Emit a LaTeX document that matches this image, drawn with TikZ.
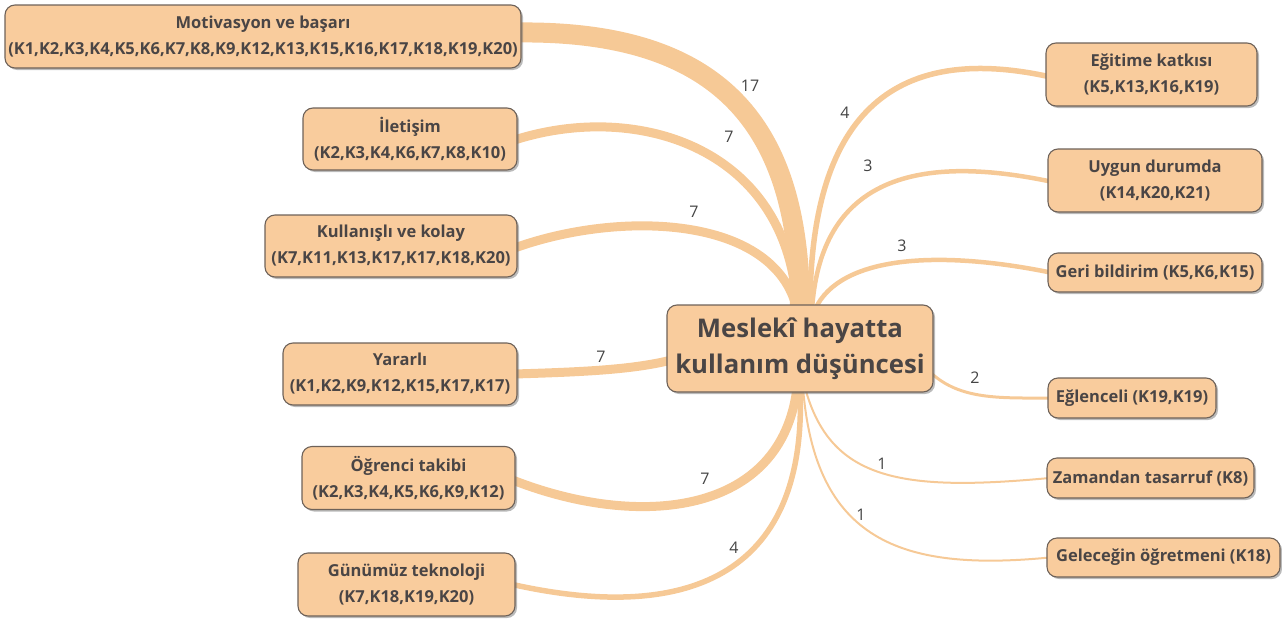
\documentclass[tikz,border=0pt]{standalone}
\usepackage{fontspec}
\setmainfont{Open Sans}
\usetikzlibrary{shadows,backgrounds,calc}
\definecolor{boxfill}{HTML}{F9CC9D}
\definecolor{boxline}{HTML}{6E6259}
\definecolor{txt}{HTML}{4A4545}
\definecolor{conn}{HTML}{F6C996}
\definecolor{lbl}{HTML}{444444}
\tikzset{
  leaf/.style={draw=boxline, line width=1.1pt, fill=boxfill, rounded corners=10pt,
    drop shadow={shadow xshift=2pt, shadow yshift=-2pt, opacity=0.45, fill=black!60},
    text=txt, font=\fontsize{16.5}{26}\selectfont\bfseries, align=center,
    inner sep=0pt},
  hub/.style={leaf, font=\fontsize{25.7}{36}\selectfont\bfseries},
  conline/.style={draw=conn, line cap=round},
  num/.style={text=lbl, font=\fontsize{16}{18}\selectfont}
}
\begin{document}
\begin{tikzpicture}[x=1pt,y=-1pt]
\useasboundingbox (0,0) rectangle (1282,621);
% hub
\node[hub, minimum width=266pt, minimum height=87pt] (c) at (800,348.5) {Meslekî hayatta\\kullanım düşüncesi};
% left
\node[leaf, minimum width=516pt, minimum height=63pt] (mot) at (263,36.5) {Motivasyon ve başarı\\(K1,K2,K3,K4,K5,K6,K7,K8,K9,K12,K13,K15,K16,K17,K18,K19,K20)};
\node[leaf, minimum width=214pt, minimum height=62pt] (ilet) at (410,139) {İletişim\\(K2,K3,K4,K6,K7,K8,K10)};
\node[leaf, minimum width=252pt, minimum height=62pt] (kull) at (391,246) {Kullanışlı ve kolay\\(K7,K11,K13,K17,K17,K18,K20)};
\node[leaf, minimum width=234pt, minimum height=62pt] (yar) at (400,374) {Yararlı\\(K1,K2,K9,K12,K15,K17,K17)};
\node[leaf, minimum width=213pt, minimum height=63pt] (ogr) at (408.5,478) {Öğrenci takibi\\(K2,K3,K4,K5,K6,K9,K12)};
\node[leaf, minimum width=217pt, minimum height=63pt] (gun) at (406.5,584.5) {Günümüz teknoloji\\(K7,K18,K19,K20)};
% right
\node[leaf, minimum width=211pt, minimum height=63pt] (egit) at (1151.5,74.5) {Eğitime katkısı\\(K5,K13,K16,K19)};
\node[leaf, minimum width=214pt, minimum height=63pt] (uyg) at (1155,180.5) {Uygun durumda\\(K14,K20,K21)};
\node[leaf, minimum width=214pt, minimum height=39pt] (geri) at (1155,272.5) {Geri bildirim (K5,K6,K15)};
\node[leaf, minimum width=168pt, minimum height=40pt] (egl) at (1132,398) {Eğlenceli (K19,K19)};
\node[leaf, minimum width=207pt, minimum height=40pt] (zam) at (1150.5,478) {Zamandan tasarruf (K8)};
\node[leaf, minimum width=233pt, minimum height=39pt] (gel) at (1163.5,557.5) {Geleceğin öğretmeni (K18)};
% connectors
\begin{scope}[on background layer]
\draw[conline, line width=20pt] ($(mot.east)+(-4,-4)$) .. controls (725,30) and (800,130) .. ($(c.north)+(0,5)$);
\draw[conline, line width=9pt] ($(ilet.east)+(-3,1)$) .. controls (640,100) and (790,150) .. ($(c.north)+(-3,5)$);
\draw[conline, line width=9pt] ($(kull.east)+(-3,2)$) .. controls (620,210) and (775,215) .. ($(c.north)+(-3,5)$);
\draw[conline, line width=9pt] ($(yar.east)+(-3,0)$) .. controls (580,372) and (630,370) .. ($(c.west)+(3,12)$);
\draw[conline, line width=9pt] ($(ogr.east)+(-3,2)$) .. controls (640,530) and (782,515) .. ($(c.south)+(-3,-5)$);
\draw[conline, line width=5.5pt] ($(gun.east)+(-3,0)$) .. controls (695,625) and (808,570) .. ($(c.south)+(0,-5)$);
\draw[conline, line width=5.5pt] ($(c.north)+(10,5)$) .. controls (810,130) and (880,40) .. ($(egit.west)+(3,2)$);
\draw[conline, line width=4.5pt] ($(c.north)+(12,5)$) .. controls (820,190) and (900,150) .. ($(uyg.west)+(3,1)$);
\draw[conline, line width=4.5pt] ($(c.north)+(15,5)$) .. controls (840,255) and (940,250) .. ($(geri.west)+(3,0)$);
\draw[conline, line width=3pt] ($(c.east)+(-3,24)$) .. controls (960,400) and (1000,398) .. ($(egl.west)+(3,0)$);
\draw[conline, line width=2pt] ($(c.south)+(5,-5)$) .. controls (830,480) and (900,492) .. ($(zam.west)+(3,0)$);
\draw[conline, line width=2pt] ($(c.south)+(3,-5)$) .. controls (815,540) and (900,572) .. ($(gel.west)+(3,0)$);
\end{scope}
% labels
\node[num] (l1) at (750,86) {17};
\node[num] (l2) at (729,137) {7};
\node[num] (l3) at (694,212) {7};
\node[num] (l4) at (601,357) {7};
\node[num] (l5) at (705,479) {7};
\node[num] (l6) at (734,548) {4};
\node[num] (l7) at (845,113) {4};
\node[num] (l8) at (868,166) {3};
\node[num] (l9) at (902,246) {3};
\node[num] (l10) at (975,378) {2};
\node[num] (l11) at (882,464) {1};
\node[num] (l12) at (861,515) {1};
\end{tikzpicture}
\end{document}
